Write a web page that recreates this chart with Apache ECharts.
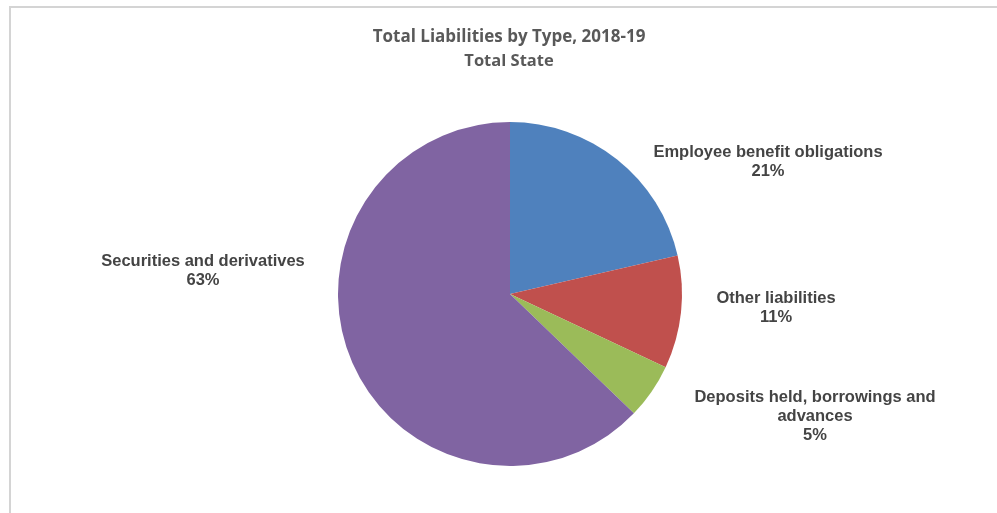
<!DOCTYPE html>
<html><head><meta charset="utf-8">
<script src="https://cdn.jsdelivr.net/npm/echarts@6/dist/echarts.min.js"></script>
<style>html,body{margin:0;padding:0;background:#fff}#c{width:997px;height:513px}</style>
</head><body><div id="c"></div>
<script>
const categories = ["Employee benefit obligations", "Other liabilities", "Deposits held, borrowings and\nadvances", "Securities and derivatives"];
const values = [21.4, 10.6, 5.2, 62.8];
const colors = ["#4f81bd", "#c0504d", "#9bbb59", "#8064a2"];
const labelPos = [[768, 162], [776, 308], [815, 416], [203, 271]];

const chart = echarts.init(document.getElementById('c'), null, {renderer: 'canvas'});
chart.setOption({
  animation: false,
  backgroundColor: '#fff',
  graphic: [{
    type: 'rect', shape: {x: 10, y: 7, width: 1000, height: 520},
    style: {fill: 'none', stroke: '#d4d4d4', lineWidth: 2}, silent: true
  }],
  title: {
    text: 'Total Liabilities by Type, 2018-19',
    subtext: 'Total State',
    left: 504, top: 24, textAlign: 'center',
    itemGap: 7,
    textStyle: {fontFamily: 'Open Sans', fontWeight: 'bold', fontSize: 17, color: '#595959'},
    subtextStyle: {fontFamily: 'Open Sans', fontWeight: 'bold', fontSize: 16.5, color: '#595959'}
  },
  series: [{
    type: 'pie',
    center: [510, 294],
    radius: 172,
    startAngle: 90,
    clockwise: true,
    data: categories.map((n, i) => ({name: n, value: values[i], itemStyle: {color: colors[i]}})),
    label: {
      show: true,
      formatter: p => p.name + '\n' + Math.round(p.percent) + '%',
      fontFamily: 'Liberation Sans', fontWeight: 'bold', fontSize: 16.5,
      color: '#444444', lineHeight: 19, align: 'center'
    },
    labelLine: {show: false},
    labelLayout: p => ({x: labelPos[p.dataIndex][0], y: labelPos[p.dataIndex][1], align: 'center', verticalAlign: 'middle'}),
    emphasis: {disabled: true}
  }]
});
</script></body></html>
